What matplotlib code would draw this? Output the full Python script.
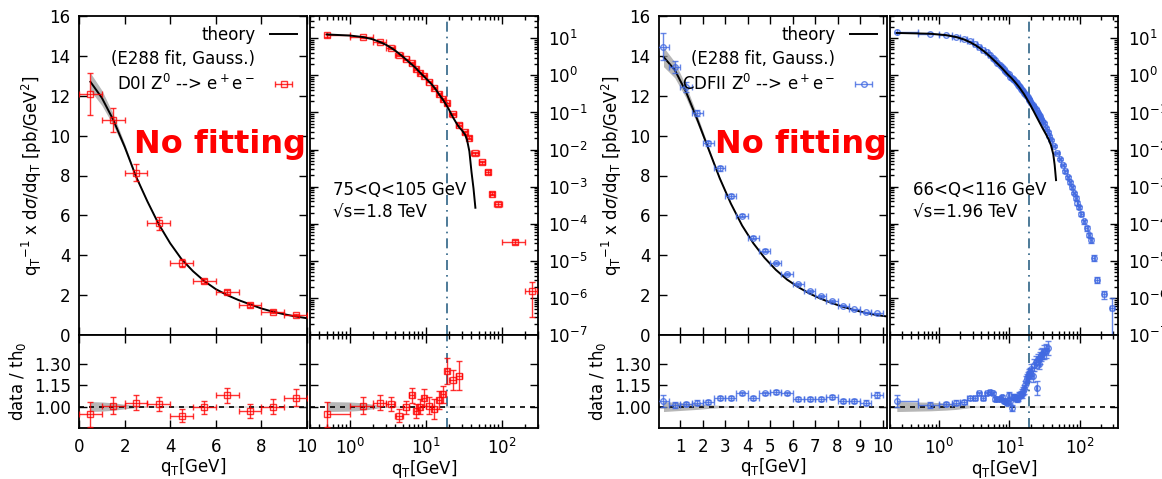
import numpy as np, matplotlib
matplotlib.use("Agg"); import matplotlib.pyplot as plt
from matplotlib.ticker import LogLocator, LogFormatterSciNotation, NullFormatter, FormatStrFormatter
from matplotlib.lines import Line2D

plt.rcParams['font.family'] = ['DejaVu Sans']
plt.rcParams['mathtext.fontset'] = 'dejavusans'

# ---------------- D0 run I  Z -> ee  (75<Q<105, sqrt(s)=1.8 TeV)
d0_x = [0.5,1.5,2.5,3.5,4.5,5.5,6.5,7.5,8.5,9.5, 11,13,15,17,19,22.5,27.5,32.5,37.5,45,55,65,75,90,150,250]
d0_y = [12.07,10.79,8.14,5.60,3.60,2.71,2.17,1.50,1.17,0.99,
        0.68,0.45,0.31,0.235,0.175,0.090,0.047,0.029,0.021,0.0080,0.0045,0.0025,6.5e-4,3.5e-4,3.2e-5,1.5e-6]
d0_yerr = [1.05,0.60,0.43,0.33,0.20,0.12,0.10,0.08,0.06,0.05,
           0.035,0.025,0.018,0.014,0.011,0.006,0.0035,0.0022,0.0016,0.0007,0.0004,0.00025,7e-5,4e-5,4e-6,1.2e-6]
d0_xhw = [0.5,0.5,0.5,0.5,0.5,0.5,0.5,0.5,0.5,0.5, 1,1,1,1,1,2.5,2.5,2.5,2.5,5,5,5,5,10,50,45]
# ratio data / theory
d0_rx = [0.5,1.5,2.5,3.5,4.5,5.5,6.5,7.5,8.5,9.5,11,13,15,17,19,22.5,27.5]
d0_r = [0.947,1.005,1.028,1.018,0.935,0.995,1.078,0.970,1.000,1.062,1.005,0.980,1.046,1.085,1.250,1.185,1.215]
d0_rerr = [0.087,0.060,0.055,0.050,0.045,0.045,0.050,0.050,0.055,0.060,0.060,0.070,0.060,0.060,0.090,0.070,0.100]
# theory
d0_tx = [0.5,1.0,1.5,2.0,2.5,3.0,3.5,4.0,4.5,5.0,5.5,6.0,6.5,7.0,7.5,8.0,8.5,9.0,9.5,10.0,
         11,12,13,14,15,16,17,18,19,20,22.5,25,27.5,30,33,35,37.5,40,42.5,45]
d0_ty = [12.7,11.9,10.8,9.45,7.95,6.7,5.55,4.6,3.8,3.2,2.7,2.3,2.0,1.75,1.54,1.33,1.17,1.04,0.93,0.84,
         0.69,0.57,0.47,0.38,0.305,0.255,0.215,0.178,0.148,0.125,0.078,0.054,0.040,0.033,0.025,0.018,0.009,0.0025,0.0009,0.00027]
d0_band = [0.035,0.032,0.026,0.016,0.008,0.005,0.004,0.003,0.003,0.003,0.003,0.003,0.003,0.003,0.003,0.003,0.003,0.003,0.003,0.003,
           0.003,0.003,0.003,0.003,0.003,0.003,0.003,0.003,0.003,0.003,0.003,0.003,0.003,0.003,0.003,0.003,0.003,0.003,0.003,0.003]

# ---------------- CDF II  Z -> ee  (66<Q<116, sqrt(s)=1.96 TeV)
cdf_x = [0.25,0.75,1.25,1.75,2.25,2.75,3.25,3.75,4.25,4.75,5.25,5.75,6.25,6.75,7.25,7.75,8.25,8.75,9.25,9.75,
         10.25,10.75,11.25,11.75,12.25,12.75,13.25,13.75,14.25,14.75,15.25,15.75,16.25,16.75,17.25,17.75,18.25,18.75,19.25,19.75,
         20.5,21.5,22.5,23.5,24.5,25.5,26.5,27.5,28.5,29.5,31,33,35,37,39,
         42.5,47.5,52.5,57.5,62.5,67.5,72.5,77.5,82.5,87.5,92.5,97.5,105,115,125,135,145,157.5,175,220,292]
cdf_y = [14.46,13.46,12.42,11.12,9.62,8.36,6.97,5.99,4.88,4.23,3.60,3.04,2.54,2.21,1.96,1.71,1.47,1.29,1.14,1.09,
         0.93,0.84,0.82,0.75,0.68,0.61,0.56,0.52,0.475,0.44,0.40,0.37,0.34,0.32,0.30,0.275,0.255,0.235,0.218,0.202,
         0.183,0.16,0.142,0.125,0.109,0.097,0.087,0.078,0.068,0.060,0.051,0.0375,0.0296,0.023,0.018,
         0.0125,0.0082,0.0057,0.0038,0.0026,0.0018,0.0013,0.00095,0.00068,0.0005,0.00037,0.00028,0.00018,0.000115,7.5e-5,5e-5,3.6e-5,1.2e-5,3.1e-6,1.26e-6,5.4e-7]
cdf_yerr = [0.67,0.30,0.25,0.15,0.13,0.11,0.10,0.09,0.08,0.07,0.06,0.05,0.05,0.04,0.04,0.04,0.03,0.03,0.03,0.03,
            0.02,0.02,0.02,0.02,0.015,0.015,0.012,0.012,0.011,0.01,0.01,0.009,0.009,0.008,0.008,0.007,0.007,0.007,0.006,0.006,
            0.006,0.005,0.005,0.005,0.004,0.004,0.004,0.004,0.003,0.003,0.003,0.002,0.002,0.0015,0.0012,
            0.0009,0.0006,0.0004,0.0003,0.0002,0.00015,0.0001,8e-5,6e-5,5e-5,4e-5,3e-5,2.2e-5,1.5e-5,1e-5,7e-6,5e-6,2e-6,6e-7,3e-7,4.4e-7]
cdf_xhw = [0.25]*40 + [0.5]*10 + [1,1,1,1,1] + [2.5]*12 + [5,5,5,5,5] + [7.5,10,15,20]
cdf_rx = cdf_x[:53]
cdf_r = [1.039,1.012,1.018,1.028,1.030,1.062,1.058,1.092,1.062,1.092,1.100,1.092,1.051,1.055,1.055,1.069,1.037,1.037,1.028,1.081,
         1.04,0.99,1.07,1.065,1.06,1.055,1.06,1.08,1.08,1.09,1.09,1.11,1.12,1.15,1.18,1.20,1.21,1.22,1.23,1.24,
         1.26,1.21,1.29,1.31,1.13,1.33,1.30,1.34,1.36,1.37,1.38,1.39,1.41]
cdf_rerr = [0.04,0.02,0.015,0.015,0.014,0.014,0.013,0.013,0.013,0.013,0.013,0.013,0.013,0.013,0.013,0.015,0.015,0.015,0.015,0.018,
            0.02,0.02,0.02,0.02,0.02,0.02,0.02,0.02,0.02,0.02,0.03,0.03,0.03,0.03,0.03,0.03,0.03,0.03,0.03,0.03,
            0.04,0.04,0.04,0.04,0.05,0.04,0.04,0.04,0.04,0.04,0.05,0.05,0.05]
cdf_tx = [0.25,0.75,1.25,1.75,2.25,2.75,3.25,3.75,4.25,4.75,5.25,5.75,6.25,6.75,7.25,7.75,8.25,8.75,9.25,9.75,10.2,
          11,12,13,14,15,16,17,18,19,20,22,24,26,28,30,33,36,39,42,44,46]
cdf_ty = [13.95,13.30,12.20,10.82,9.34,7.87,6.59,5.49,4.60,3.87,3.27,2.78,2.40,2.08,1.82,1.60,1.41,1.25,1.11,1.00,0.93,
          0.80,0.66,0.55,0.46,0.38,0.32,0.265,0.22,0.185,0.155,0.11,0.08,0.06,0.046,0.036,0.026,0.019,0.013,0.0075,0.0038,0.0015]
cdf_band = [0.035,0.03,0.025,0.02,0.013,0.008,0.005,0.004,0.003,0.003,0.003,0.003,0.003,0.003,0.003,0.003,0.003,0.003,0.003,0.003,0.003,
            0.003,0.003,0.003,0.003,0.003,0.003,0.003,0.003,0.003,0.003,0.003,0.003,0.003,0.003,0.003,0.003,0.003,0.003,0.003,0.003,0.003]

W, H = 1162, 479
FS = 12
VLINE = 19.0

def box(x0, x1, y0, y1):
    return [x0/W, 1-y1/H, (x1-x0)/W, (y1-y0)/H]

def style(ax):
    ax.tick_params(which='both', direction='in', top=True, right=True, labelsize=FS, width=1)
    ax.tick_params(which='major', length=6)
    ax.tick_params(which='minor', length=3)
    ax.tick_params(axis='x', pad=7)
    ax.tick_params(axis='y', pad=6)
    for s in ax.spines.values(): s.set_linewidth(1.3)

def logx(ax, lo, hi):
    ax.set_xscale('log'); ax.set_xlim(lo, hi)
    ax.xaxis.set_major_locator(LogLocator(base=10, numticks=20))
    ax.xaxis.set_minor_locator(LogLocator(base=10, subs=np.arange(2, 10), numticks=20))
    ax.xaxis.set_major_formatter(LogFormatterSciNotation()); ax.xaxis.set_minor_formatter(NullFormatter())

def group(xl, xg, d, col, mk, lab, xlim_lin, xticks_lin, xlim_log, txt):
    x, y, yerr, xhw = [np.array(v, float) for v in (d['x'], d['y'], d['yerr'], d['xhw'])]
    rx, r, rerr = [np.array(v, float) for v in (d['rx'], d['r'], d['rerr'])]
    tx, ty, band = [np.array(v, float) for v in (d['tx'], d['ty'], d['band'])]
    nlin = int((x <= xlim_lin[1]).sum())
    eb = dict(fmt=mk, mfc='none', mec=col, color=col, ms=4, mew=1, elinewidth=1, capsize=2.5, alpha=0.8, zorder=4)
    # ----- linear main
    a1 = fig.add_axes(box(xl[0], xl[1], 16, 335)); style(a1)
    m = tx <= xlim_lin[1] + 0.01
    a1.fill_between(tx[m], ty[m]*(1-band[m]), ty[m]*(1+band[m]), color='0.6', alpha=0.7, lw=0, zorder=2)
    a1.plot(tx[m], ty[m], color='k', lw=1.4, zorder=3)
    a1.errorbar(x[:nlin], y[:nlin], yerr=yerr[:nlin], xerr=xhw[:nlin], **eb)
    a1.set_xlim(*xlim_lin); a1.set_ylim(0, 16)
    a1.set_xticks(xticks_lin); a1.set_yticks(np.arange(0, 17, 2))
    a1.tick_params(labelbottom=False)
    a1.set_ylabel(r'q$_\mathrm{T}$$^{-1}$ x d$\sigma$/dq$_\mathrm{T}$ [pb/GeV$^2$]', fontsize=FS)
    pe = a1.errorbar([np.nan], [np.nan], xerr=[1.0], **eb)
    hs = [Line2D([], [], color='k', lw=1.4), Line2D([], [], ls='none'), pe]
    a1.legend(hs, ['theory', '(E288 fit, Gauss.)', lab], loc='upper right', markerfirst=False, frameon=False,
              fontsize=FS, handlelength=1.6, labelspacing=0.35, borderaxespad=0.2, handletextpad=0.9)
    # ----- linear ratio
    b1 = fig.add_axes(box(xl[0], xl[1], 335, 428)); style(b1)
    mr = rx <= xlim_lin[1]
    b1.fill_between(tx[m], 1-band[m], 1+band[m], color='0.6', alpha=0.7, lw=0, zorder=2)
    b1.axhline(1.0, color='k', ls=(0, (3, 3)), lw=1.2, zorder=3)
    b1.errorbar(rx[mr], r[mr], yerr=rerr[mr], xerr=xhw[:len(rx)][mr], **eb)
    b1.set_xlim(*xlim_lin); b1.set_ylim(0.85, 1.5)
    b1.set_xticks(xticks_lin); b1.set_yticks([1.0, 1.15, 1.30])
    b1.yaxis.set_major_formatter(FormatStrFormatter('%.2f'))
    b1.set_ylabel(r'data / th$_0$', fontsize=FS)
    b1.set_xlabel(r'q$_\mathrm{T}$[GeV]', fontsize=FS, labelpad=0)
    # ----- log main
    a2 = fig.add_axes(box(xg[0], xg[1], 16, 335)); style(a2)
    logx(a2, *xlim_log)
    a2.set_yscale('log'); a2.set_ylim(1e-7, 40)
    a2.yaxis.set_major_locator(LogLocator(base=10, numticks=20))
    a2.yaxis.set_minor_locator(LogLocator(base=10, subs=np.arange(2, 10), numticks=20))
    a2.yaxis.set_major_formatter(LogFormatterSciNotation()); a2.yaxis.set_minor_formatter(NullFormatter())
    xlo = xhw.copy(); xlo[0] = 0
    a2.errorbar(x, y, yerr=yerr, xerr=[xlo, xhw], **eb)
    a2.plot(tx, ty, color='k', lw=1.4, zorder=5)
    a2.axvline(VLINE, color='#2f6386', ls=(0, (6, 3, 1, 3)), lw=1.2, zorder=1)
    a2.tick_params(labelbottom=False, labelleft=False, labelright=True)
    a2.tick_params(axis='y', pad=7)
    a2.text(0.10, 0.455, txt[0], transform=a2.transAxes, fontsize=FS, va='center')
    a2.text(0.10, 0.382, txt[1], transform=a2.transAxes, fontsize=FS, va='center')
    # ----- log ratio
    b2 = fig.add_axes(box(xg[0], xg[1], 335, 428)); style(b2)
    logx(b2, *xlim_log)
    b2.fill_between(tx, 1-band, 1+band, color='0.6', alpha=0.7, lw=0, zorder=2)
    b2.axhline(1.0, color='k', ls=(0, (3, 3)), lw=1.2, zorder=3)
    rlo = xhw[:len(rx)].copy(); rlo[0] = 0
    b2.errorbar(rx, r, yerr=rerr, xerr=[rlo, xhw[:len(rx)]], **eb)
    b2.axvline(VLINE, color='#2f6386', ls=(0, (6, 3, 1, 3)), lw=1.2, zorder=1)
    b2.set_ylim(0.85, 1.5); b2.set_yticks([1.0, 1.15, 1.30])
    b2.tick_params(labelleft=False)
    b2.set_xlabel(r'q$_\mathrm{T}$[GeV]', fontsize=FS, labelpad=0)

fig = plt.figure(figsize=(W/100, H/100), dpi=100)

d0 = dict(x=d0_x, y=d0_y, yerr=d0_yerr, xhw=d0_xhw, rx=d0_rx, r=d0_r, rerr=d0_rerr, tx=d0_tx, ty=d0_ty, band=d0_band)
cdf = dict(x=cdf_x, y=cdf_y, yerr=cdf_yerr, xhw=cdf_xhw, rx=cdf_rx, r=cdf_r, rerr=cdf_rerr, tx=cdf_tx, ty=cdf_ty, band=cdf_band)

group((79, 307), (310, 538), d0, '#ff0000', 's', r'D0I Z$^0$ --> e$^+$e$^-$', (0, 10), np.arange(0, 11, 2),
      (0.3, 300), ('75<Q<105 GeV', '\u221as=1.8 TeV'))
group((659, 887), (890, 1118), cdf, '#4169e1', 'o', r'CDFII Z$^0$ --> e$^+$e$^-$', (0.05, 10.2), np.arange(1, 11),
      (0.2, 350), ('66<Q<116 GeV', '\u221as=1.96 TeV'))

for xc in (220, 801):
    fig.text(xc/W, 1-145/H, 'No fitting', color='#ff0000', fontsize=23, fontweight='bold', ha='center', va='center')

fig.savefig('out.png', dpi=100)
